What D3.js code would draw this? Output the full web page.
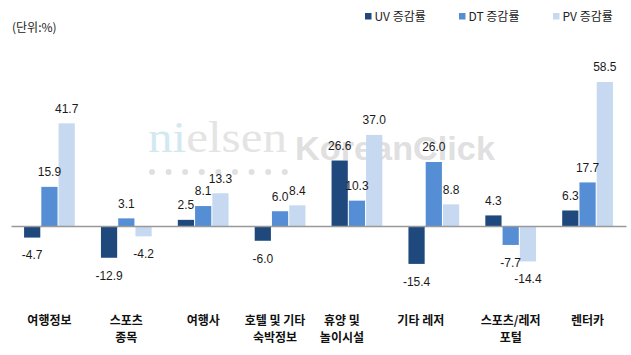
<!DOCTYPE html>
<html><head><meta charset="utf-8">
<script src="https://cdn.jsdelivr.net/npm/d3@7"></script>
<style>
html,body{margin:0;padding:0;background:#fff;}
svg{display:block;}
</style></head>
<body><svg id="c" width="631" height="355" font-family="'Liberation Sans','Noto Sans CJK KR',sans-serif"></svg>
<script>
const categories = ["여행정보", "스포츠\n종목", "여행사", "호텔 및 기타\n숙박정보", "휴양 및\n놀이시설", "기타 레저", "스포츠/레저\n포털", "렌터카"];
const seriesNames = ["UV 증감률", "DT 증감률", "PV 증감률"];
const uvValues = [-4.7, -12.9, 2.5, -6.0, 26.6, -15.4, 4.3, 6.3];
const dtValues = [15.9, 3.1, 8.1, 6.0, 10.3, 26.0, -7.7, 17.7];
const pvValues = [41.7, -4.2, 13.3, 8.4, 37.0, 8.8, -14.4, 58.5];
const unitLabel = "(단위:%)";

const colors = ["#1f497d", "#558ed5", "#c6d9f1"];
const labelNudge = [0, 0, 0, -5, -15, -13, 0, 0];

const svg = d3.select("#c");
const seriesValues = [uvValues, dtValues, pvValues];
const rows = categories.map((c, i) => ({cat: c, idx: i, vals: seriesValues.map((s, k) => ({k, v: s[i]}))}));

const x0 = d3.scaleBand().domain(categories).range([11, 626]).paddingInner(0.34).paddingOuter(0.17);
const x1 = d3.scaleBand().domain(d3.range(seriesNames.length)).range([0, x0.bandwidth()]).paddingInner(0.06);
const maxV = d3.max(pvValues);
const y = d3.scaleLinear().domain([0, maxV]).range([226, 82]);

// watermark
const wm = svg.append("g").attr("class", "watermark");
const wt = wm.append("text").attr("x", 148).attr("y", 152)
  .attr("font-family", "'Liberation Serif','DejaVu Serif',serif").attr("font-size", 44)
  .attr("textLength", 139).attr("lengthAdjust", "spacingAndGlyphs");
wt.append("tspan").attr("fill", "#d3e9f2").text("ni");
wt.append("tspan").attr("fill", "#e4e4e4").text("elsen");
wm.selectAll("circle").data(d3.range(9)).join("circle")
  .attr("cx", d => 152 + d * 16.6).attr("cy", 172).attr("r", 3).attr("fill", "#e0e0e0");
wm.append("text").attr("x", 295).attr("y", 160)
  .attr("font-family", "'Liberation Sans',Arial,sans-serif").attr("font-weight", "bold")
  .attr("font-size", 33).attr("textLength", 200).attr("lengthAdjust", "spacingAndGlyphs")
  .attr("fill", "#e0e0e0").text("KoreanClick");

// bars
const g = svg.append("g").selectAll("g").data(rows).join("g")
  .attr("transform", d => `translate(${x0(d.cat)},0)`);
g.selectAll("rect").data(d => d.vals).join("rect")
  .attr("x", d => x1(d.k)).attr("width", x1.bandwidth())
  .attr("y", d => y(Math.max(0, d.v))).attr("height", d => Math.abs(y(d.v) - y(0)))
  .attr("fill", d => colors[d.k]);
g.selectAll("text.val").data(d => d.vals).join("text").attr("class", "val")
  .attr("x", d => x1(d.k) + x1.bandwidth() / 2)
  .attr("y", d => d.v >= 0 ? y(d.v) - 10.7 : y(d.v) + 21.8)
  .attr("text-anchor", "middle").attr("font-size", 12).attr("fill", "#1a1a1a")
  .text(d => d.v.toFixed(1));

// zero axis
const xAxis = d3.axisBottom(x0).tickSize(0).tickFormat("");
svg.append("g").attr("transform", `translate(0,${y(0)})`).call(xAxis)
  .call(s => s.select(".domain").attr("stroke", "#999").attr("stroke-width", 1.3));

// category labels
const cl = svg.append("g").selectAll("text").data(rows).join("text")
  .attr("text-anchor", "middle").attr("font-size", 12).attr("font-weight", "bold").attr("fill", "#111")
  .attr("font-family", "'Noto Sans CJK KR',sans-serif");
cl.each(function(d) {
  const lines = d.cat.split("\n");
  const cx = x0(d.cat) + x0.bandwidth() / 2 + labelNudge[d.idx];
  d3.select(this).selectAll("tspan").data(lines).join("tspan")
    .attr("x", cx).attr("y", (l, i) => 325 + i * 16.5).text(l => l);
});

// unit
svg.append("text").attr("x", 12).attr("y", 31.5).attr("font-size", 12).attr("fill", "#222")
  .attr("font-family", "'Noto Sans CJK KR',sans-serif").text(unitLabel);

// legend
const lg = svg.append("g").selectAll("g").data(seriesNames).join("g")
  .attr("transform", (d, i) => `translate(${365 + i * 94},0)`);
lg.append("rect").attr("x", 0).attr("y", 13).attr("width", 6.5).attr("height", 6.5).attr("fill", (d, i) => colors[i]);
lg.append("text").attr("x", 9.5).attr("y", 20.5).attr("font-size", 12).attr("fill", "#222")
  .attr("font-family", "'Noto Sans CJK KR',sans-serif").text(d => d);
</script></body></html>
